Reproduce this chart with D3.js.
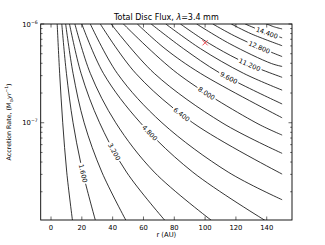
<!DOCTYPE html>
<html>
<head>
<meta charset="utf-8">
<script src="https://cdn.jsdelivr.net/npm/d3@7.9.0/dist/d3.min.js"></script>
<style>
  body { margin: 0; background: #fff; }
  text { font-family: "DejaVu Sans", sans-serif; }
</style>
</head>
<body>
<svg id="chart" width="325" height="245"></svg>
<script>
// contour levels, labels on every other one
const levels = [0.8, 1.6, 2.4, 3.2, 4.0, 4.8, 5.6, 6.4, 7.2, 8.0, 8.8, 9.6, 10.4, 11.2, 12.0, 12.8, 13.6, 14.4, 15.2];
const labelledLevels = [1.6, 3.2, 4.8, 6.4, 8.0, 9.6, 11.2, 12.8, 14.4];

// points: [r (AU), log10 accretion rate]
const contourPoints = [
  [[4, -6], [5.6, -6.5], [7.6, -7], [10.2, -7.5], [14, -8]],
  [[7, -6], [10, -6.5], [14.3, -7], [20.6, -7.5], [29, -8]],
  [[9.5, -6], [14.3, -6.5], [21.5, -7], [33, -7.5], [49, -8]],
  [[12, -6], [19.5, -6.5], [31.5, -7], [49, -7.5], [74.5, -8]],
  [[15.5, -6], [25.5, -6.5], [42, -7], [67, -7.5], [105, -8]],
  [[20, -6], [34, -6.5], [58, -7], [92, -7.5], [140, -8]],
  [[25.5, -6], [43, -6.5], [72, -7], [115, -7.5], [150, -7.78]],
  [[32, -6], [55, -6.5], [92, -7], [150, -7.52]],
  [[39, -6], [67, -6.5], [111, -7], [150, -7.31]],
  [[47, -6], [82, -6.5], [133, -7], [150, -7.125]],
  [[56, -6], [74, -6.25], [97, -6.5], [150, -6.95]],
  [[65, -6], [86, -6.25], [110, -6.5], [150, -6.81]],
  [[74.5, -6], [97, -6.25], [125, -6.5], [150, -6.67]],
  [[84, -6], [103, -6.2], [127, -6.4], [150, -6.54]],
  [[94.5, -6], [116, -6.2], [143, -6.4], [150, -6.43]],
  [[105, -6], [119, -6.12], [135, -6.235], [150, -6.33]],
  [[117, -6], [130, -6.1], [150, -6.22]],
  [[126, -6], [140, -6.09], [150, -6.14]],
  [[140, -6], [145, -6.03], [150, -6.05]]
];

// where the inline labels sit: [r, log10 Mdot]
const labelPoints = [
  [20.8, -7.51], [41.6, -7.286], [64.3, -7.1], [85, -6.908], [101, -6.704],
  [115, -6.551], [129.2, -6.408], [135, -6.235], [140, -6.092]
];

const marker = [100, -6.19];
const xTicks = [0, 20, 40, 60, 80, 100, 120, 140];
const yTicks = [1e-7, 1e-6];

const svg = d3.select('#chart');
const plotL = 40.7, plotR = 292, plotT = 24, plotB = 220;

let x = d3.scaleLinear().domain([-6.7, 156.4]).range([plotL, plotR]);
let y = d3.scaleLog().domain([Math.pow(10, -7.985), 1e-6]).range([plotB, plotT]);

svg.append('clipPath').attr('id', 'clip')
  .append('rect').attr('x', plotL).attr('y', plotT)
  .attr('width', plotR - plotL).attr('height', plotB - plotT);

let line = d3.line()
  .x((d) => x(d[0]))
  .y((d) => y(Math.pow(10, d[1])))
  .curve(d3.curveCatmullRom.alpha(0.5));

let plot = svg.append('g').attr('clip-path', 'url(#clip)');
let fmt = d3.format('.3f');

contourPoints.forEach((pts, i) => {
  let path = plot.append('path')
    .attr('d', line(pts))
    .attr('fill', 'none')
    .attr('stroke', '#000')
    .attr('stroke-width', 0.8);

  let li = labelledLevels.indexOf(levels[i]);
  if (li < 0) return;

  // find the spot on the path nearest the label point
  let node = path.node();
  let total = node.getTotalLength();
  let lx = x(labelPoints[li][0]), ly = y(Math.pow(10, labelPoints[li][1]));
  let best = 0, bestD = Infinity;
  for (let s = 0; s <= total; s += 0.5) {
    let p = node.getPointAtLength(s);
    let dd = (p.x - lx) ** 2 + (p.y - ly) ** 2;
    if (dd < bestD) { bestD = dd; best = s; }
  }
  let p0 = node.getPointAtLength(Math.max(0, best - 3));
  let p1 = node.getPointAtLength(Math.min(total, best + 3));
  let pc = node.getPointAtLength(best);
  let ang = Math.atan2(p1.y - p0.y, p1.x - p0.x) * 180 / Math.PI;
  if (ang > 90) ang -= 180;
  if (ang < -90) ang += 180;

  let t = svg.append('text')
    .attr('transform', `translate(${pc.x},${pc.y}) rotate(${ang})`)
    .attr('text-anchor', 'middle')
    .attr('dy', '0.35em')
    .attr('font-size', 6.5)
    .text(fmt(levels[i]));
  let w = t.node().getComputedTextLength() + 3;
  path.attr('stroke-dasharray', `${best - w / 2} ${w} ${total}`);
});

// red cross marker
let mx = x(marker[0]), my = y(Math.pow(10, marker[1]));
svg.append('path')
  .attr('d', `M${mx - 2.6},${my - 2.6}L${mx + 2.6},${my + 2.6}M${mx - 2.6},${my + 2.6}L${mx + 2.6},${my - 2.6}`)
  .attr('stroke', '#e8202a')
  .attr('stroke-width', 0.8);

// frame
svg.append('rect')
  .attr('x', plotL).attr('y', plotT)
  .attr('width', plotR - plotL).attr('height', plotB - plotT)
  .attr('fill', 'none').attr('stroke', '#000').attr('stroke-width', 0.9);

// x ticks (inward, top and bottom)
let tk = svg.append('g').attr('stroke', '#000').attr('stroke-width', 0.6);
xTicks.forEach((v) => {
  tk.append('line').attr('x1', x(v)).attr('x2', x(v)).attr('y1', plotB).attr('y2', plotB - 3.5);
  tk.append('line').attr('x1', x(v)).attr('x2', x(v)).attr('y1', plotT).attr('y2', plotT + 3.5);
  svg.append('text')
    .attr('x', x(v)).attr('y', plotB + 9.5)
    .attr('text-anchor', 'middle')
    .attr('font-size', 6.8)
    .text(v);
});

// y ticks, major + log minor
y.ticks().forEach((v) => {
  let major = yTicks.includes(v);
  let len = major ? 3.5 : 1.8;
  tk.append('line').attr('x1', plotL).attr('x2', plotL + len).attr('y1', y(v)).attr('y2', y(v));
  tk.append('line').attr('x1', plotR).attr('x2', plotR - len).attr('y1', y(v)).attr('y2', y(v));
});

yTicks.forEach((v) => {
  let t = svg.append('text')
    .attr('x', plotL - 3).attr('y', y(v) + 2.5)
    .attr('text-anchor', 'end')
    .attr('font-size', 6.8);
  t.append('tspan').text('10');
  t.append('tspan').attr('dy', -3).attr('font-size', 4.6).text('\u2212' + Math.round(-Math.log10(v)));
});

// titles
let title = svg.append('text')
  .attr('x', (plotL + plotR) / 2).attr('y', 20)
  .attr('text-anchor', 'middle')
  .attr('font-size', 8);
title.append('tspan').text('Total Disc Flux, ');
title.append('tspan').attr('font-style', 'italic').text('\u03bb');
title.append('tspan').text('=3.4 mm');

svg.append('text')
  .attr('x', (plotL + plotR) / 2).attr('y', 237)
  .attr('text-anchor', 'middle')
  .attr('font-size', 6.8)
  .text('r (AU)');

let yl = svg.append('text')
  .attr('transform', `translate(11,${(plotT + plotB) / 2}) rotate(-90)`)
  .attr('text-anchor', 'middle')
  .attr('font-size', 6.3);
yl.append('tspan').text('Accretion Rate, (M');
yl.append('tspan').attr('dy', 1.5).attr('font-size', 4.4).text('\u2299');
yl.append('tspan').attr('dy', -1.5).attr('font-style', 'italic').text('yr');
yl.append('tspan').attr('dy', -2.8).attr('font-size', 4.4).text('\u22121');
yl.append('tspan').attr('dy', 2.8).text(')');
</script>
</body>
</html>
